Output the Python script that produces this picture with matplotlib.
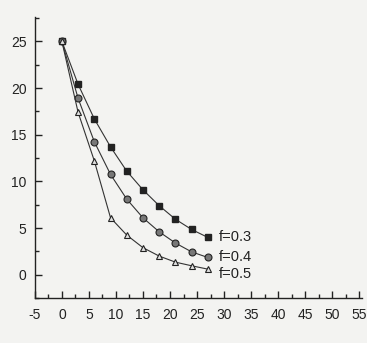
import matplotlib
matplotlib.use("Agg")
import matplotlib.pyplot as plt
from matplotlib.ticker import MultipleLocator

plt.rcParams['font.family'] = ['Liberation Sans', 'DejaVu Sans']
plt.rcParams['axes.unicode_minus'] = False

x = [0, 3, 6, 9, 12, 15, 18, 21, 24, 27]
f03 = [25, 20.4, 16.7, 13.7, 11.1, 9.1, 7.4, 5.95, 4.85, 4.0]
f04 = [25, 18.9, 14.25, 10.75, 8.1, 6.1, 4.6, 3.4, 2.45, 1.85]
f05 = [25, 17.4, 12.2, 6.1, 4.25, 2.9, 2.0, 1.35, 0.96, 0.6]
labels = ["f=0.3", "f=0.4", "f=0.5"]
label_y = [4.0, 1.9, 0.1]

bg = "#f3f3f1"
fig = plt.figure(figsize=(3.67, 3.43), dpi=100, facecolor=bg)
ax = fig.add_axes([0.095, 0.131, 0.891, 0.819], facecolor=bg)

lc = "#333333"
ax.plot(x, f03, '-', color=lc, lw=0.8, marker='s', ms=5, mfc='#222222', mec='#222222')
ax.plot(x, f04, '-', color=lc, lw=0.8, marker='o', ms=5, mfc='#777777', mec='#222222', mew=0.8)
ax.plot(x, f05, '-', color=lc, lw=0.8, marker='^', ms=5, mfc='#e0e0e0', mec='#222222', mew=0.8)

for lab, yy in zip(labels, label_y):
    ax.text(29, yy, lab, fontsize=10.5, va='center', ha='left', color='#222222')

ax.set_xlim(-5, 55.5)
ax.set_ylim(-2.5, 27.6)
ax.spines['top'].set_visible(False)
ax.spines['right'].set_visible(False)
for s in ['left', 'bottom']:
    ax.spines[s].set_color('#222222')
    ax.spines[s].set_linewidth(1.0)
ax.set_xticks(range(-5, 60, 5))
ax.set_yticks(range(0, 30, 5))
ax.xaxis.set_minor_locator(MultipleLocator(2.5))
ax.yaxis.set_minor_locator(MultipleLocator(2.5))
ax.tick_params(axis='both', which='major', direction='in', length=5, width=1, labelsize=10, colors='#222222')
ax.tick_params(axis='both', which='minor', direction='in', length=3, width=1, colors='#222222')
ax.tick_params(axis='x', pad=7)
ax.tick_params(axis='y', pad=6)

fig.savefig("out.png", dpi=100, facecolor=bg)
